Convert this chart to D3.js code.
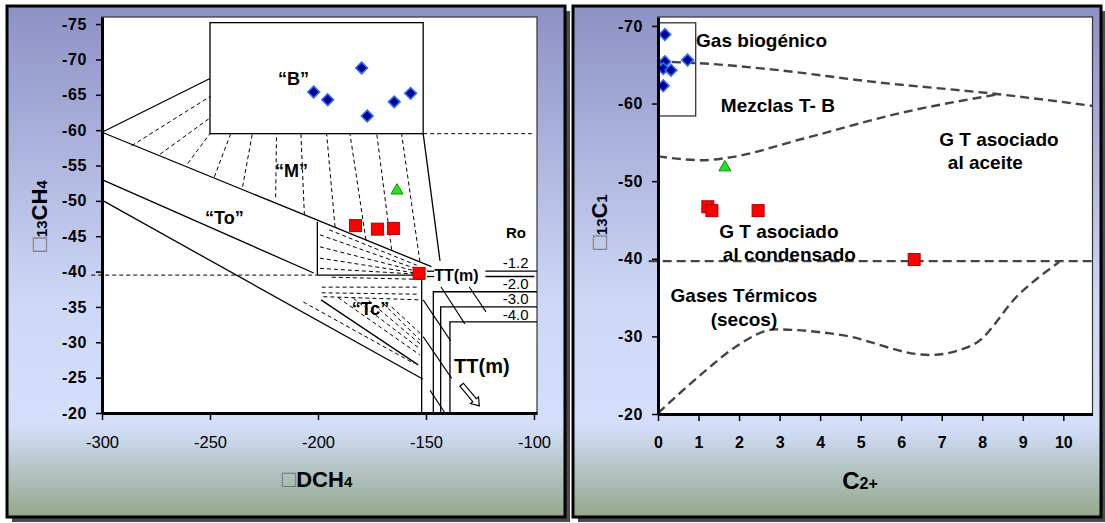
<!DOCTYPE html>
<html>
<head>
<meta charset="utf-8">
<script src="https://cdn.jsdelivr.net/npm/d3@7"></script>
<style>
  body { margin: 0; background: #fff; }
  svg text { font-family: "Liberation Sans", Arial, sans-serif; }
</style>
</head>
<body>
<svg id="chart" width="1105" height="523"></svg>
<script>
// ---- tick values ----
const leftTicksX = [-300, -250, -200, -150, -100];
const leftTicksY = [-75, -70, -65, -60, -55, -50, -45, -40, -35, -30, -25, -20];
const rightTicksX = [0, 1, 2, 3, 4, 5, 6, 7, 8, 9, 10];
const rightTicksY = [-70, -60, -50, -40, -30, -20];

// ---- samples, left panel (dD CH4, d13C CH4) ----
const leftBiogenic = [[-202, -65.4], [-195.5, -64.3], [-179.8, -68.8], [-177.2, -62.0], [-164.7, -64.0], [-157.1, -65.2]];
const leftMixed = [[-163.4, -51.6]];
const leftThermal = [[-182.6, -46.5], [-172.5, -46.0], [-165.1, -46.1], [-153.2, -39.75]];

// ---- samples, right panel (C2+, d13C1) ----
const rightBiogenic = [[0.17, -68.9], [0.17, -65.4], [0.13, -64.5], [0.32, -64.3], [0.13, -62.3], [0.73, -65.6]];
const rightMixed = [[1.65, -51.9]];
const rightThermal = [[1.23, -46.7], [1.33, -46.2], [2.47, -46.2], [6.32, -39.9]];

// ---- left diagram: field boundaries ----
const bBox = [[-250, -75.2], [-151.3, -59.5]];
const leftSolid = [
  [[-300, -59.7], [-250, -67.3]],
  [[-300, -59.7], [-147.5, -40.7]],
  [[-300, -53.0], [-202, -39.8]],
  [[-300, -50.1], [-151.5, -24.8]],
  [[-200.3, -47.05], [-200.3, -39.5]],
  [[-200.3, -39.5], [-155, -39.5]],
  [[-152, -39.1], [-152, -20]],
  [[-151.3, -59.5], [-143.5, -41.5]],
  [[-198.6, -36.0], [-153.6, -26.8]]
];
const leftDashed = [
  [[-305, -39.5], [-200.3, -39.5]],
  [[-151.3, -59.5], [-101, -59.5]],
  // "M" fan
  [[-286.3, -57.8], [-249.7, -64.8]],
  [[-273.1, -56.6], [-249.7, -61.8]],
  [[-260.3, -55.3], [-250, -59.5]],
  [[-248, -53.4], [-240.4, -59.5]],
  [[-234.9, -52.0], [-230.4, -59.5]],
  [[-219.6, -50.5], [-219.2, -59.5]],
  [[-206.3, -48.0], [-207.9, -59.5]],
  [[-192.1, -46.3], [-196, -59.5]],
  [[-177.8, -44.5], [-185.2, -59.5]],
  [[-165.9, -43.1], [-172.8, -59.5]],
  [[-152.8, -41.4], [-161.3, -59.5]],
  // "Tc" fan, upper
  [[-194.8, -45.9], [-154.3, -40.9]],
  [[-199.1, -45.2], [-155.1, -40.45]],
  [[-199.1, -43.5], [-155.1, -40.1]],
  [[-199.1, -41.9], [-155.1, -39.8]],
  [[-199.1, -40.45], [-155.1, -39.65]],
  // "Tc" fan, lower
  [[-193.6, -39.2], [-153, -38.9]],
  [[-198.3, -37.8], [-153.5, -37.8]],
  [[-198.3, -37.0], [-153.5, -36.8]],
  [[-197.5, -36.45], [-152.8, -36.0]],
  [[-206.8, -35.7], [-155.5, -27.0]],
  [[-190.6, -36.3], [-152.8, -28.2]],
  [[-183.6, -36.2], [-152.8, -29.1]],
  [[-176.5, -35.9], [-152.8, -29.8]],
  [[-169.8, -35.5], [-152.8, -30.3]],
  [[-165.9, -35.0], [-152.8, -31.3]]
];
// Ro maturity lines
const roLabels = ['-1.2', '-2.0', '-3.0', '-4.0'];
const roLabelPos = [[-114.5, -40.5], [-114.5, -37.5], [-114.5, -35.4], [-114.5, -33.1]];
const roLines = [
  [[-122.5, -40.05], [-98.6, -40.05]],
  [[-122.5, -39.3], [-99.8, -39.3]],
  [[-149.5, -40.05], [-146.2, -40.05]],
  [[-149.5, -39.3], [-146.2, -39.3]],
  [[-146.6, -20], [-146.6, -37.15], [-98.6, -37.15]],
  [[-143.2, -20], [-143.2, -35.0], [-98.6, -35.0]],
  [[-138.9, -20], [-138.9, -32.9], [-98.6, -32.9]]
];
const ttHatch = [
  [[-143.1, -37.85], [-132, -32.6]],
  [[-130, -37.85], [-122.2, -34.3]],
  [[-151.3, -36.0], [-138.6, -30.2]],
  [[-151.3, -30.8], [-138.1, -24.9]],
  [[-148.1, -23.2], [-141.2, -20.0]]
];
const ttArrow = [[-133.5, -24.0], [-125.3, -21.0]];
const leftLabels = [
  { t: '\u201CB\u201D', p: [-218.5, -66.4], s: 18 },
  { t: '\u201CM\u201D', p: [-219.9, -53.4], s: 18 },
  { t: '\u201CTo\u201D', p: [-252.3, -46.7], s: 18 },
  { t: '\u201CTc\u201D', p: [-184.4, -33.85], s: 18 },
  { t: 'Ro', p: [-113, -44.7], s: 15 },
  { t: 'TT(m)', p: [-146.2, -38.65], s: 16 },
  { t: 'TT(m)', p: [-137, -25.7], s: 20 }
];

// ---- right diagram: field boundaries ----
const gasBox = [[0, -70.4], [0.93, -58.4]];
const curveTop = [[0, -65.4], [1, -65.2], [2.8, -64.4], [5.3, -62.8], [8.4, -61.2], [10.72, -59.7]];
const curveMix = [[0, -53.2], [1.1, -52.7], [1.7, -53.0], [3.6, -55.5], [6.0, -58.8], [8.4, -61.2]];
const curveCond = [[-0.23, -39.7], [10.72, -39.7]];
const curveDry = [[0, -20.1], [1.2, -25.7], [1.9, -28.6], [2.9, -30.9], [4.5, -30.2], [6.7, -27.6], [7.8, -29.0], [8.9, -35.4], [9.9, -39.6]];
const rightLabels = [
  { t: 'Gas biog\u00E9nico', p: [0.94, -67.3] },
  { t: 'Mezclas T- B', p: [1.55, -58.9] },
  { t: 'G T asociado', p: [6.94, -54.5] },
  { t: ' al aceite', p: [7.02, -51.6] },
  { t: 'G T asociado', p: [1.51, -42.7] },
  { t: 'al condensado', p: [1.6, -39.7] },
  { t: 'Gases T\u00E9rmicos', p: [0.31, -34.4] },
  { t: '(secos)', p: [1.3, -31.4] }
];

const svg = d3.select('#chart');
svg.append('rect').attr('width', 1105).attr('height', 523).attr('fill', '#fff');

const defs = svg.append('defs');
const grad = defs.append('linearGradient').attr('id', 'bg').attr('x1', 0).attr('y1', 0).attr('x2', 0).attr('y2', 1);
[[0, '#8d91c5'], [0.58, '#cdd8f6'], [0.82, '#d3dffb'], [1, '#93a88b']].forEach(s => {
  grad.append('stop').attr('offset', s[0]).attr('stop-color', s[1]);
});

function frame(x, y, w, h) {
  svg.append('rect').attr('x', x + 5).attr('y', y + 5).attr('width', w).attr('height', h).attr('fill', '#4a4a4a');
  svg.append('rect').attr('x', x).attr('y', y).attr('width', w).attr('height', h)
    .attr('fill', 'url(#bg)').attr('stroke', '#000').attr('stroke-width', 3);
}
frame(7, 6, 558, 511);
frame(573, 6, 528, 511);

function plotArea(x, y) {
  const [x0, x1] = x.range();
  const [y0, y1] = y.range();
  svg.append('rect').attr('x', x0).attr('y', y0).attr('width', x1 - x0).attr('height', y1 - y0)
    .attr('fill', '#fff').attr('stroke', '#333').attr('stroke-width', 1.2);
}

function axes(x, y, xt, yt, xBold) {
  const gx = svg.append('g').attr('transform', `translate(0,${y.range()[1]})`)
    .call(d3.axisBottom(x).tickValues(xt).tickSize(7).tickSizeOuter(0).tickPadding(16).tickFormat(d => String(d)));
  const gy = svg.append('g').attr('transform', `translate(${x.range()[0]},0)`)
    .call(d3.axisLeft(y).tickValues(yt).tickSize(6).tickSizeOuter(0).tickPadding(9).tickFormat(d => String(d)));
  [gx, gy].forEach(g => {
    g.select('.domain').attr('stroke', '#000').attr('stroke-width', 3);
    g.selectAll('.tick line').attr('stroke', '#000').attr('stroke-width', 1.5);
  });
  gx.selectAll('.tick text').attr('fill', '#000').style('font-size', xBold ? '16px' : '16.5px')
    .style('font-weight', xBold ? 'bold' : 'normal').style('font-family', '"Liberation Sans", Arial, sans-serif');
  gy.selectAll('.tick text').attr('fill', '#000').style('font-size', '16px').style('font-weight', 'bold')
    .style('letter-spacing', '0.6px').style('font-family', '"Liberation Sans", Arial, sans-serif');
}

function markers(g, x, y, bio, mix, therm) {
  g.selectAll('.mix').data(mix).enter().append('path')
    .attr('d', d3.symbol(d3.symbolTriangle, 62))
    .attr('transform', d => `translate(${x(d[0])},${y(d[1]) + 1})`)
    .attr('fill', '#22e622').attr('stroke', '#0a8a0a').attr('stroke-width', 1);
  g.selectAll('.therm').data(therm).enter().append('rect')
    .attr('x', d => x(d[0]) - 6).attr('y', d => y(d[1]) - 6).attr('width', 12).attr('height', 12)
    .attr('fill', '#ff0000').attr('stroke', '#b00000').attr('stroke-width', 1);
  g.selectAll('.bio').data(bio).enter().append('path')
    .attr('d', d3.symbol(d3.symbolSquare, 68))
    .attr('transform', d => `translate(${x(d[0])},${y(d[1])}) rotate(45)`)
    .attr('fill', '#00008c').attr('stroke', '#2a6cff').attr('stroke-width', 1.6);
}

// ================= LEFT PANEL =================
const xL = d3.scaleLinear().domain([-300, -98.6]).range([102, 537]);
const yL = d3.scaleLinear().domain([-76, -20]).range([17, 413]);
plotArea(xL, yL);

const gL = svg.append('g');
const lineL = d3.line().x(d => xL(d[0])).y(d => yL(d[1]));

gL.append('rect')
  .attr('x', xL(bBox[0][0])).attr('y', yL(bBox[0][1]))
  .attr('width', xL(bBox[1][0]) - xL(bBox[0][0])).attr('height', yL(bBox[1][1]) - yL(bBox[0][1]))
  .attr('fill', 'none').attr('stroke', '#000').attr('stroke-width', 1.3);

gL.selectAll('.solid').data(leftSolid).enter().append('path')
  .attr('d', lineL).attr('fill', 'none').attr('stroke', '#000').attr('stroke-width', 1.3);
gL.selectAll('.dash').data(leftDashed).enter().append('path')
  .attr('d', lineL).attr('fill', 'none').attr('stroke', '#000').attr('stroke-width', 1).attr('stroke-dasharray', '4,3');

gL.selectAll('.rotext').data(roLabels).enter().append('text')
  .attr('x', (d, i) => xL(roLabelPos[i][0])).attr('y', (d, i) => yL(roLabelPos[i][1]))
  .style('font-size', '15px').attr('fill', '#000').text(d => d);

gL.selectAll('.ro').data(roLines).enter().append('path')
  .attr('d', lineL).attr('fill', 'none').attr('stroke', '#000').attr('stroke-width', 1.3);
gL.selectAll('.hatch').data(ttHatch).enter().append('path')
  .attr('d', lineL).attr('fill', 'none').attr('stroke', '#000').attr('stroke-width', 1.1);

// hollow arrow
(function () {
  const p0 = [xL(ttArrow[0][0]), yL(ttArrow[0][1])];
  const p1 = [xL(ttArrow[1][0]), yL(ttArrow[1][1])];
  const dx = p1[0] - p0[0], dy = p1[1] - p0[1], L = Math.hypot(dx, dy);
  const ux = dx / L, uy = dy / L, nx = -uy, ny = ux;
  const hw = 2.3, hh = 5.2, hl = 7.5;
  const b = [p1[0] - ux * hl, p1[1] - uy * hl];
  const pts = [
    [p0[0] + nx * hw, p0[1] + ny * hw], [b[0] + nx * hw, b[1] + ny * hw], [b[0] + nx * hh, b[1] + ny * hh],
    p1, [b[0] - nx * hh, b[1] - ny * hh], [b[0] - nx * hw, b[1] - ny * hw], [p0[0] - nx * hw, p0[1] - ny * hw]
  ];
  gL.append('polygon').attr('points', pts.map(p => p.join(',')).join(' '))
    .attr('fill', '#fff').attr('stroke', '#000').attr('stroke-width', 1.2);
})();

gL.selectAll('.lbl').data(leftLabels).enter().append('text')
  .attr('x', d => xL(d.p[0])).attr('y', d => yL(d.p[1]))
  .style('font-size', d => d.s + 'px').style('font-weight', 'bold').attr('fill', '#000').text(d => d.t);

markers(gL, xL, yL, leftBiogenic, leftMixed, leftThermal);
axes(xL, yL, leftTicksX, leftTicksY, false);

// axis titles
const tX = svg.append('text').attr('x', 317).attr('y', 487).attr('text-anchor', 'middle')
  .style('font-weight', 'bold').style('font-size', '22px').attr('fill', '#000');
tX.append('tspan').text('\u25A1').attr('fill', '#777').style('font-weight', 'normal').style('font-size', '24px');
tX.append('tspan').text('DCH');
tX.append('tspan').text('4').style('font-size', '15px');

const tY = svg.append('text').attr('transform', 'translate(47,216) rotate(-90)').attr('text-anchor', 'middle')
  .style('font-weight', 'bold').style('font-size', '22px').attr('fill', '#000');
tY.append('tspan').text('\u25A1').attr('fill', '#777').style('font-weight', 'normal').style('font-size', '24px');
tY.append('tspan').text('13').style('font-size', '15px');
tY.append('tspan').text('CH');
tY.append('tspan').text('4').style('font-size', '15px');

// ================= RIGHT PANEL =================
const xR = d3.scaleLinear().domain([0, 10.72]).range([658, 1092.5]);
const yR = d3.scaleLinear().domain([-71.15, -20]).range([17, 414]);
plotArea(xR, yR);

const gR = svg.append('g');
gR.append('rect')
  .attr('x', xR(gasBox[0][0])).attr('y', yR(gasBox[0][1]))
  .attr('width', xR(gasBox[1][0]) - xR(gasBox[0][0])).attr('height', yR(gasBox[1][1]) - yR(gasBox[0][1]))
  .attr('fill', 'none').attr('stroke', '#333').attr('stroke-width', 1.3);

const lineR = d3.line().x(d => xR(d[0])).y(d => yR(d[1])).curve(d3.curveMonotoneX);
gR.selectAll('.bound').data([curveTop, curveMix, curveCond, curveDry]).enter().append('path')
  .attr('d', lineR).attr('fill', 'none').attr('stroke', '#444').attr('stroke-width', 2.4)
  .attr('stroke-dasharray', '9,5');

gR.selectAll('.lbl').data(rightLabels).enter().append('text')
  .attr('x', d => xR(d.p[0])).attr('y', d => yR(d.p[1]))
  .style('font-size', '19px').style('font-weight', 'bold').style('white-space', 'pre')
  .attr('fill', '#000').text(d => d.t);

markers(gR, xR, yR, rightBiogenic, rightMixed, rightThermal);
axes(xR, yR, rightTicksX, rightTicksY, true);

const tX2 = svg.append('text').attr('x', 860).attr('y', 489).attr('text-anchor', 'middle')
  .style('font-weight', 'bold').style('font-size', '24px').attr('fill', '#000');
tX2.append('tspan').text('C');
tX2.append('tspan').text('2+').style('font-size', '16px');

const tY2 = svg.append('text').attr('transform', 'translate(607,222) rotate(-90)').attr('text-anchor', 'middle')
  .style('font-weight', 'bold').style('font-size', '22px').attr('fill', '#000');
tY2.append('tspan').text('\u25A1').attr('fill', '#777').style('font-weight', 'normal').style('font-size', '24px');
tY2.append('tspan').text('13').style('font-size', '15px');
tY2.append('tspan').text('C');
tY2.append('tspan').text('1').style('font-size', '15px');
</script>
</body>
</html>
